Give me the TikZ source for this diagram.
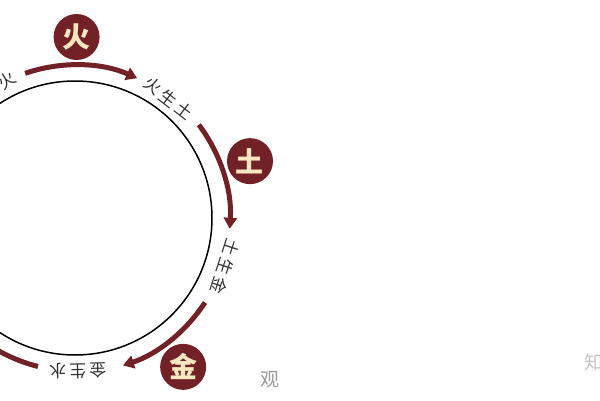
\documentclass[tikz,border=0pt]{standalone}
\usepackage{fontspec}
\newfontfamily\cjk{Noto Sans CJK SC}
\usetikzlibrary{arrows.meta}
\definecolor{maroon}{HTML}{722226}
\definecolor{cream}{HTML}{F6E7C1}
\definecolor{labelgray}{HTML}{333333}
\begin{document}
\begin{tikzpicture}[x=1pt,y=1pt,
  elem/.style={circle,fill=maroon,minimum size=46pt,inner sep=0pt,text=cream,font=\cjk\bfseries\fontsize{28}{28}\selectfont},
  flow/.style={draw=maroon,line width=5pt,-{Triangle[length=11pt,width=13pt]}},
  lbl/.style={text=labelgray,font=\cjk\fontsize{17}{17}\selectfont,inner sep=0pt},
  wmark/.style={font=\cjk\fontsize{19}{19}\selectfont,inner sep=0pt}
]
\useasboundingbox (0,0) rectangle (600,400);
\clip (0,0) rectangle (600,400);
\fill[white] (0,0) rectangle (600,400);
\coordinate (O) at (75,182);
\draw[line width=1.5pt] (O) circle[radius=137];
% element discs
\node[elem] (huo) at ([shift={(89.5:181)}]O) {火};
\node[elem] (tu)  at ([shift={(18:184)}]O) {土};
\node[elem] (jin) at ([shift={(-54:184)}]O) {金};
\node[elem] (shui) at ([shift={(-126:184)}]O) {水};
\node[elem] (mu) at ([shift={(162:184)}]O) {木};
% flow arcs
\draw[flow] ([shift={(109:153)}]O) arc[start angle=109,end angle=66,radius=153];
\draw[flow] ([shift={(37:155)}]O) arc[start angle=37,end angle=-4,radius=155];
\draw[flow] ([shift={(-33:155)}]O) arc[start angle=-33,end angle=-72,radius=155];
\draw[flow] ([shift={(-104:153)}]O) arc[start angle=-104,end angle=-146,radius=153];
\draw[flow] ([shift={(181:153)}]O) arc[start angle=181,end angle=140,radius=153];
% labels
\node[lbl,rotate=34] (l1) at ([shift={(124:152)}]O) {木\hspace{3pt}生\hspace{3pt}火};
\node[lbl,rotate=-38] (l2) at ([shift={(52:152)}]O) {火\hspace{3pt}生\hspace{3pt}土};
\node[lbl,rotate=-108] (l3) at ([shift={(-18:158)}]O) {土\hspace{3pt}生\hspace{3pt}金};
\node[lbl,rotate=-179] (l4) at ([shift={(-89:153)}]O) {金\hspace{3pt}生\hspace{3pt}水};
\node[lbl,rotate=108] (l5) at ([shift={(-162:153)}]O) {水\hspace{3pt}生\hspace{3pt}木};
% watermark fragments
\node[wmark,text=black!22] (wm1) at (594,38) {知};
\node[wmark,text=black!40] (wm2) at (270,20) {观};
\end{tikzpicture}
\end{document}
